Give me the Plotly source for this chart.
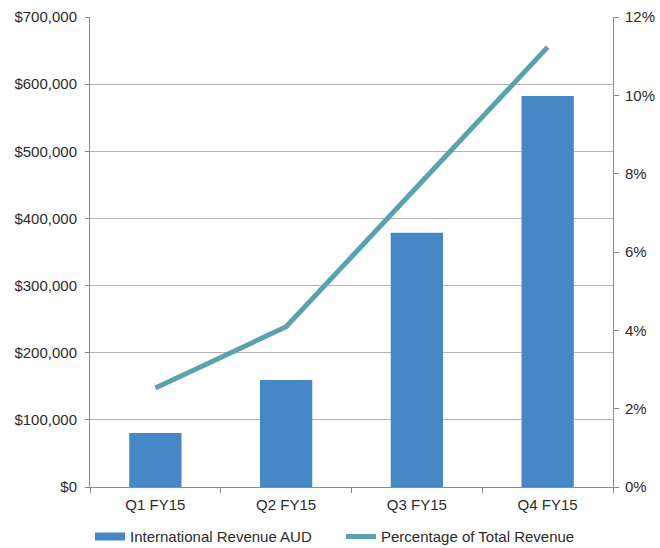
import plotly.graph_objects as go

quarters = ["Q1 FY15", "Q2 FY15", "Q3 FY15", "Q4 FY15"]
intl_revenue = [80500, 159500, 378500, 582500]
pct_total = [0.0253, 0.0409, 0.0766, 0.1123]

bar_name = "International Revenue AUD"
line_name = "Percentage of Total Revenue"
bar_col = "#4688c6"
line_col = "#5aa3ad"

fig = go.Figure()
fig.add_trace(go.Bar(
    x=quarters, y=intl_revenue, name=bar_name,
    marker=dict(color=bar_col, line=dict(width=0)),
    yaxis="y", showlegend=False,
))
# legend proxy for the bar series (wide rectangle swatch)
fig.add_trace(go.Scatter(
    x=[None], y=[None], name=bar_name, mode="lines",
    line=dict(color=bar_col, width=8), yaxis="y", hoverinfo="skip",
))
fig.add_trace(go.Scatter(
    x=quarters, y=pct_total, name=line_name,
    mode="lines", line=dict(color=line_col, width=5),
    yaxis="y2",
))

font_col = "#2b2b2b"
fig.update_layout(
    width=660, height=548,
    margin=dict(l=90, r=47, t=17, b=61, autoexpand=False),
    paper_bgcolor="white", plot_bgcolor="white",
    font=dict(family="Liberation Sans, Arial, sans-serif", size=15, color=font_col),
    bargap=0.6,
    showlegend=True,
    legend=dict(orientation="h", x=0.0, xanchor="left", y=-0.106, yanchor="middle",
                font=dict(size=15, color=font_col), itemwidth=30, entrywidth=206,
                traceorder="normal", bgcolor="rgba(0,0,0,0)"),
    xaxis=dict(
        type="category", showline=True, linecolor="#8c8c8c", linewidth=1,
        ticks="outside", tickson="boundaries", ticklen=5, tickcolor="#8c8c8c",
        showgrid=False, zeroline=False, ticklabelstandoff=4, automargin=False,
    ),
    yaxis=dict(
        range=[0, 700000], dtick=100000, tickprefix="$", tickformat=",",
        showline=True, linecolor="#8c8c8c", linewidth=1,
        ticks="outside", ticklen=4, tickcolor="#8c8c8c", ticklabelstandoff=5,
        showgrid=True, gridcolor="#b4b4b4", gridwidth=1, zeroline=False,
        automargin=False,
    ),
    yaxis2=dict(
        range=[0, 0.12], dtick=0.02, tickformat=".0%", overlaying="y", side="right",
        showline=True, linecolor="#8c8c8c", linewidth=1,
        ticks="outside", ticklen=5, tickcolor="#8c8c8c", ticklabelstandoff=3,
        showgrid=False, zeroline=False, automargin=False,
    ),
)

fig.write_html("out.html")
